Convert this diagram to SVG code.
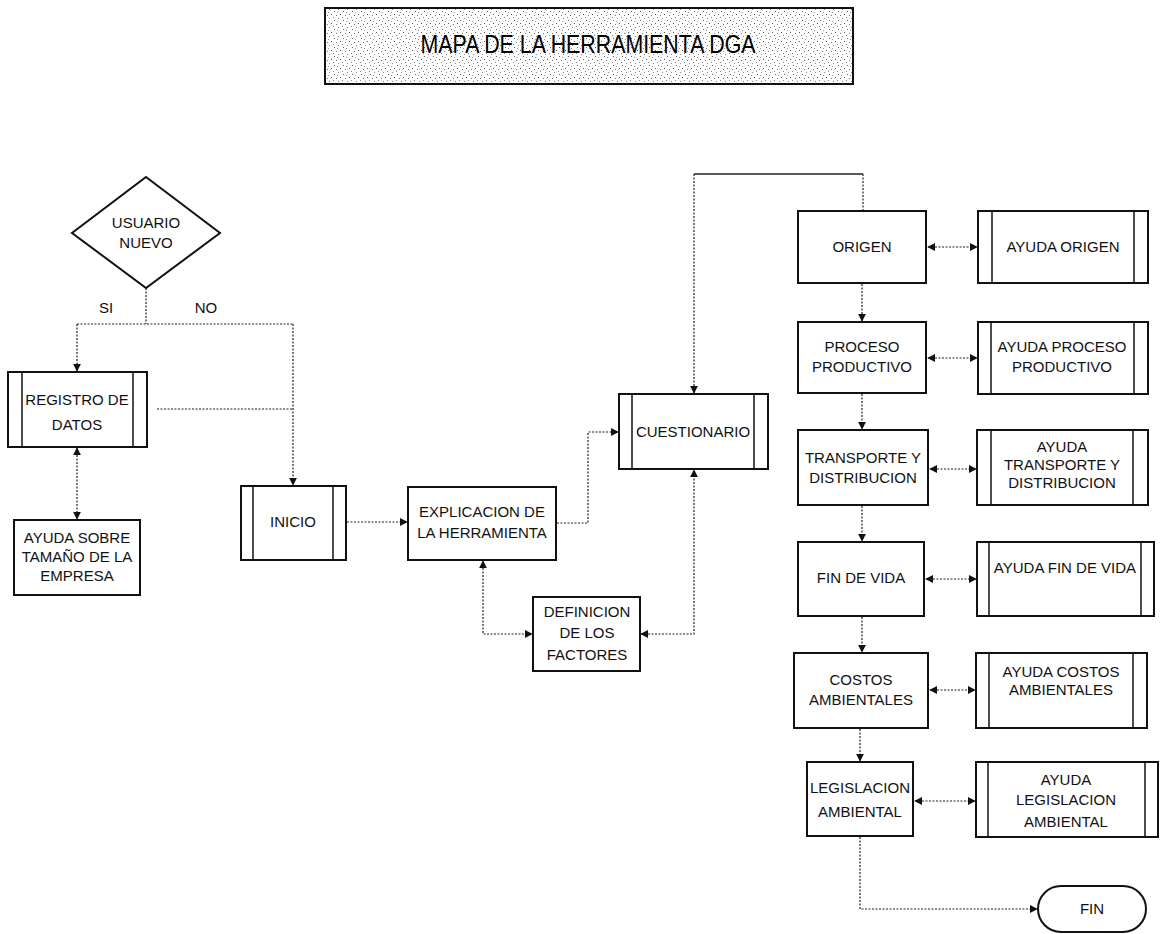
<svg xmlns="http://www.w3.org/2000/svg" width="1163" height="934" viewBox="0 0 1163 934">
  <style>
    .box { fill: #fff; stroke: #111; stroke-width: 2; }
    .inner { stroke: #111; stroke-width: 1.5; }
    .lbl { font-family: "Liberation Sans", Arial, sans-serif; font-size: 15px; fill: #111; text-anchor: middle; }
    .title { font-family: "Liberation Sans", Arial, sans-serif; font-size: 25px; fill: #000; text-anchor: middle; }
    .flow { fill: none; stroke: #222; stroke-width: 1.2; stroke-dasharray: 2 1.5; }
    .solid { fill: none; stroke: #222; stroke-width: 1.3; }
  </style>
  <defs>
    <pattern id="stipple" width="9" height="9" patternUnits="userSpaceOnUse">
      <rect width="9" height="9" fill="#fff"/>
      <rect x="1" y="2" width="1" height="1" fill="#666"/>
      <rect x="5" y="0" width="1" height="1" fill="#888"/>
      <rect x="7" y="5" width="1" height="1" fill="#555"/>
      <rect x="3" y="6" width="1" height="1" fill="#777"/>
      <rect x="4" y="3" width="1" height="1" fill="#999"/>
      <rect x="0" y="8" width="1" height="1" fill="#888"/>
    </pattern>
    <marker id="arr" viewBox="0 0 10 10" refX="9" refY="5" markerWidth="8" markerHeight="8" markerUnits="userSpaceOnUse" orient="auto-start-reverse">
      <path d="M0,0 L10,5 L0,10 z" fill="#111"/>
    </marker>
  </defs>

  <!-- title banner -->
  <g id="title">
    <rect x="325" y="8" width="528" height="76" fill="url(#stipple)" stroke="#111" stroke-width="2"/>
    <text class="title" x="588" y="53" textLength="335" lengthAdjust="spacingAndGlyphs">MAPA DE LA HERRAMIENTA DGA</text>
  </g>

  <!-- connectors -->
  <g id="connectors">
    <!-- decision split -->
    <path class="flow" d="M146,288 V324"/>
    <path class="flow" d="M77,324 H293"/>
    <path class="flow" d="M77,324 V371" marker-end="url(#arr)"/>
    <path class="flow" d="M293,324 V485" marker-end="url(#arr)"/>
    <path class="flow" d="M157,409 H293"/>
    <!-- registro <-> ayuda sobre tamano -->
    <path class="flow" d="M77,448 V519" marker-start="url(#arr)" marker-end="url(#arr)"/>
    <!-- inicio -> explicacion -->
    <path class="flow" d="M347,522 H407" marker-end="url(#arr)"/>
    <!-- explicacion -> cuestionario -->
    <path class="flow" d="M557,523 H588 V432 H618" marker-end="url(#arr)"/>
    <!-- explicacion <-> definicion -->
    <path class="flow" d="M483,561 V634 H532" marker-start="url(#arr)" marker-end="url(#arr)"/>
    <!-- definicion <-> cuestionario -->
    <path class="flow" d="M641,634 H694 V470" marker-start="url(#arr)" marker-end="url(#arr)"/>
    <!-- origen loop back to cuestionario -->
    <path class="flow" d="M694,174 V393" marker-end="url(#arr)"/>
    <path class="solid" d="M694,174 H863"/>
    <path class="flow" d="M863,174 V211"/>
    <!-- main column -->
    <path class="flow" d="M862,284 V321" marker-end="url(#arr)"/>
    <path class="flow" d="M862,394 V429" marker-end="url(#arr)"/>
    <path class="flow" d="M862,506 V541" marker-end="url(#arr)"/>
    <path class="flow" d="M862,617 V652" marker-end="url(#arr)"/>
    <path class="flow" d="M860,729 V761" marker-end="url(#arr)"/>
    <path class="flow" d="M860,837 V909 H1037" marker-end="url(#arr)"/>
    <!-- help links -->
    <path class="flow" d="M928,247 H977" marker-start="url(#arr)" marker-end="url(#arr)"/>
    <path class="flow" d="M928,358 H977" marker-start="url(#arr)" marker-end="url(#arr)"/>
    <path class="flow" d="M930,469 H976" marker-start="url(#arr)" marker-end="url(#arr)"/>
    <path class="flow" d="M926,579 H976" marker-start="url(#arr)" marker-end="url(#arr)"/>
    <path class="flow" d="M930,690 H975" marker-start="url(#arr)" marker-end="url(#arr)"/>
    <path class="flow" d="M915,801 H975" marker-start="url(#arr)" marker-end="url(#arr)"/>
  </g>

  <g id="usuario-nuevo">
    <polygon class="box" points="146,177 220,233 146,288 72,233" stroke-width="1.5"/>
    <text class="lbl" x="146" y="228">USUARIO</text>
    <text class="lbl" x="146" y="248">NUEVO</text>
  </g>
  <g id="label-si"><text class="lbl" x="106" y="313">SI</text></g>
  <g id="label-no"><text class="lbl" x="206" y="313">NO</text></g>

  <g id="registro">
    <rect class="box" x="8" y="372" width="139" height="75"/>
    <line class="inner" x1="22" y1="372" x2="22" y2="447"/>
    <line class="inner" x1="133" y1="372" x2="133" y2="447"/>
    <text class="lbl" x="77" y="405">REGISTRO DE</text>
    <text class="lbl" x="77" y="430">DATOS</text>
  </g>

  <g id="ayuda-tamano">
    <rect class="box" x="14" y="520" width="126" height="75" stroke-width="1.5"/>
    <text class="lbl" x="77" y="543">AYUDA SOBRE</text>
    <text class="lbl" x="77" y="562">TAMAÑO DE LA</text>
    <text class="lbl" x="77" y="581">EMPRESA</text>
  </g>

  <g id="inicio">
    <rect class="box" x="241" y="486" width="105" height="74"/>
    <line class="inner" x1="253" y1="486" x2="253" y2="560"/>
    <line class="inner" x1="333" y1="486" x2="333" y2="560"/>
    <text class="lbl" x="293" y="527">INICIO</text>
  </g>

  <g id="explicacion">
    <rect class="box" x="408" y="487" width="148" height="73"/>
    <text class="lbl" x="482" y="517">EXPLICACION DE</text>
    <text class="lbl" x="482" y="538">LA HERRAMIENTA</text>
  </g>

  <g id="definicion">
    <rect class="box" x="533" y="597" width="107" height="74"/>
    <text class="lbl" x="587" y="617">DEFINICION</text>
    <text class="lbl" x="587" y="638">DE LOS</text>
    <text class="lbl" x="587" y="660">FACTORES</text>
  </g>

  <g id="cuestionario">
    <rect class="box" x="619" y="394" width="149" height="75"/>
    <line class="inner" x1="632" y1="394" x2="632" y2="469"/>
    <line class="inner" x1="754" y1="394" x2="754" y2="469"/>
    <text class="lbl" x="693" y="437">CUESTIONARIO</text>
  </g>

  <g id="origen">
    <rect class="box" x="798" y="211" width="128" height="72"/>
    <text class="lbl" x="862" y="252">ORIGEN</text>
  </g>
  <g id="ayuda-origen">
    <rect class="box" x="978" y="211" width="170" height="72"/>
    <line class="inner" x1="992" y1="211" x2="992" y2="283"/>
    <line class="inner" x1="1134" y1="211" x2="1134" y2="283"/>
    <text class="lbl" x="1063" y="252">AYUDA ORIGEN</text>
  </g>

  <g id="proceso">
    <rect class="box" x="798" y="322" width="128" height="71"/>
    <text class="lbl" x="862" y="352">PROCESO</text>
    <text class="lbl" x="862" y="372">PRODUCTIVO</text>
  </g>
  <g id="ayuda-proceso">
    <rect class="box" x="978" y="322" width="170" height="72"/>
    <line class="inner" x1="991" y1="322" x2="991" y2="394"/>
    <line class="inner" x1="1134" y1="322" x2="1134" y2="394"/>
    <text class="lbl" x="1062" y="352">AYUDA PROCESO</text>
    <text class="lbl" x="1062" y="372">PRODUCTIVO</text>
  </g>

  <g id="transporte">
    <rect class="box" x="798" y="430" width="130" height="75"/>
    <text class="lbl" x="863" y="463">TRANSPORTE Y</text>
    <text class="lbl" x="863" y="483">DISTRIBUCION</text>
  </g>
  <g id="ayuda-transporte">
    <rect class="box" x="977" y="430" width="171" height="75"/>
    <line class="inner" x1="991" y1="430" x2="991" y2="505"/>
    <line class="inner" x1="1133" y1="430" x2="1133" y2="505"/>
    <text class="lbl" x="1062" y="452">AYUDA</text>
    <text class="lbl" x="1062" y="470">TRANSPORTE Y</text>
    <text class="lbl" x="1062" y="488">DISTRIBUCION</text>
  </g>

  <g id="fin-de-vida">
    <rect class="box" x="798" y="542" width="126" height="74"/>
    <text class="lbl" x="861" y="583">FIN DE VIDA</text>
  </g>
  <g id="ayuda-fin-de-vida">
    <rect class="box" x="977" y="542" width="177" height="74"/>
    <line class="inner" x1="989" y1="542" x2="989" y2="616"/>
    <line class="inner" x1="1141" y1="542" x2="1141" y2="616"/>
    <text class="lbl" x="1065" y="573">AYUDA FIN DE VIDA</text>
  </g>

  <g id="costos">
    <rect class="box" x="794" y="653" width="134" height="75"/>
    <text class="lbl" x="861" y="685">COSTOS</text>
    <text class="lbl" x="861" y="705">AMBIENTALES</text>
  </g>
  <g id="ayuda-costos">
    <rect class="box" x="976" y="653" width="171" height="75"/>
    <line class="inner" x1="989" y1="653" x2="989" y2="728"/>
    <line class="inner" x1="1133" y1="653" x2="1133" y2="728"/>
    <text class="lbl" x="1061" y="677">AYUDA COSTOS</text>
    <text class="lbl" x="1061" y="695">AMBIENTALES</text>
  </g>

  <g id="legislacion">
    <rect class="box" x="807" y="762" width="106" height="74"/>
    <text class="lbl" x="860" y="793">LEGISLACION</text>
    <text class="lbl" x="860" y="817">AMBIENTAL</text>
  </g>
  <g id="ayuda-legislacion">
    <rect class="box" x="976" y="762" width="182" height="75"/>
    <line class="inner" x1="988" y1="762" x2="988" y2="837"/>
    <line class="inner" x1="1145" y1="762" x2="1145" y2="837"/>
    <text class="lbl" x="1066" y="785">AYUDA</text>
    <text class="lbl" x="1066" y="805">LEGISLACION</text>
    <text class="lbl" x="1066" y="827">AMBIENTAL</text>
  </g>

  <g id="fin">
    <rect class="box" x="1038" y="886" width="108" height="46" rx="23" ry="23" stroke-width="1.5"/>
    <text class="lbl" x="1092" y="914">FIN</text>
  </g>
</svg>
